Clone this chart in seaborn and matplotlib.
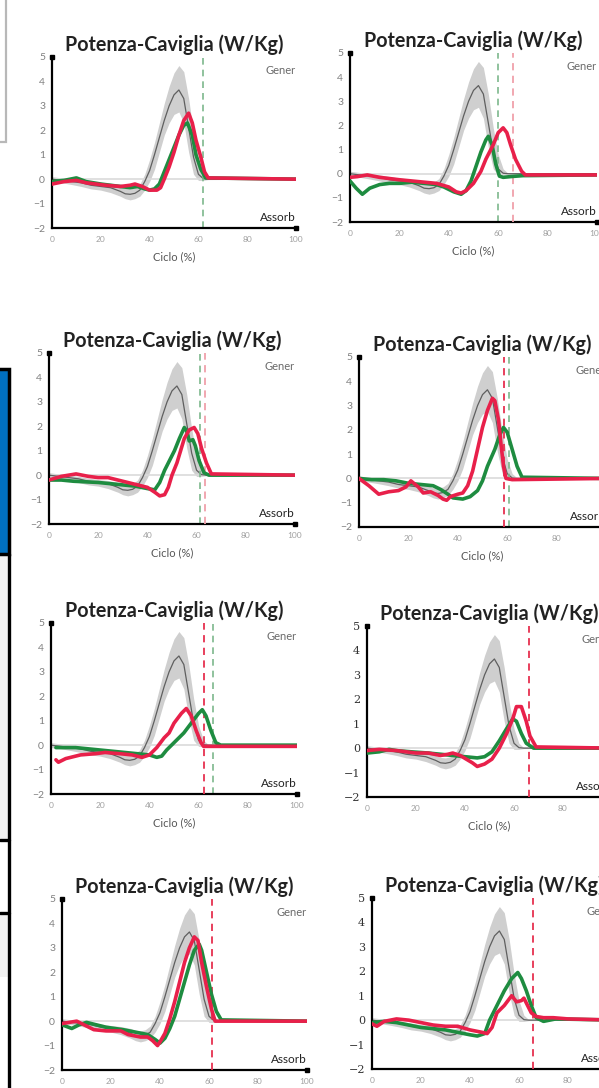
import matplotlib
matplotlib.use("Agg")
import matplotlib.pyplot as plt
import seaborn as sns
from matplotlib.patches import Rectangle
from matplotlib.lines import Line2D

# ---------------- data ----------------
ref_x = [0, 4, 8, 12, 16, 20, 24, 28, 30, 32, 34, 36, 38, 40, 42, 44, 46, 48, 50, 52, 54, 56, 58, 60, 62, 64, 100]
ref_mean = [0, -0.05, -0.1, -0.15, -0.25, -0.3, -0.35, -0.5, -0.6, -0.62, -0.58, -0.45, -0.1, 0.35, 1.0, 1.7, 2.4, 3.0, 3.45, 3.65, 3.3, 2.1, 0.9, 0.2, 0.02, 0, 0]
ref_upper = [0.1, 0.05, 0, -0.05, -0.12, -0.18, -0.22, -0.3, -0.38, -0.4, -0.35, -0.2, 0.2, 0.8, 1.5, 2.3, 3.1, 3.8, 4.35, 4.65, 4.4, 3.3, 1.9, 0.8, 0.2, 0.02, 0]
ref_lower = [-0.1, -0.15, -0.22, -0.3, -0.4, -0.45, -0.55, -0.7, -0.8, -0.85, -0.8, -0.7, -0.45, -0.1, 0.4, 1.1, 1.8, 2.3, 2.65, 2.75, 2.3, 1.1, 0.2, -0.05, -0.05, -0.02, 0]

p1_green_x = [0, 5, 10, 14, 20, 28, 32, 35, 38, 40, 42, 44, 46, 48, 50, 52, 54, 55.5, 57.5, 59, 61, 63, 100]
p1_green_y = [-0.1, -0.05, 0.05, -0.1, -0.2, -0.3, -0.35, -0.3, -0.4, -0.45, -0.4, -0.2, 0.3, 0.8, 1.3, 1.8, 2.2, 2.3, 1.8, 1.0, 0.4, 0.05, 0]
p1_red_x = [0, 5, 10, 14, 18, 22, 28, 32, 34, 37, 40, 43, 44.5, 46, 48, 50, 52, 54, 56, 57.5, 59, 61, 62.5, 64, 100]
p1_red_y = [-0.2, -0.1, -0.05, -0.15, -0.2, -0.25, -0.3, -0.25, -0.2, -0.3, -0.45, -0.45, -0.35, 0.0, 0.5, 1.1, 1.8, 2.4, 2.7, 2.3, 1.6, 0.9, 0.3, 0.05, 0]

p2_green_x = [0, 2.5, 5, 8, 12, 16, 20, 25, 30, 35, 38, 42, 45, 47, 49, 51, 53, 55, 56, 57.5, 59, 60.5, 62, 65, 70, 100]
p2_green_y = [-0.3, -0.6, -0.85, -0.6, -0.45, -0.4, -0.4, -0.35, -0.4, -0.45, -0.55, -0.75, -0.85, -0.7, -0.3, 0.3, 0.9, 1.4, 1.55, 1.2, 0.4, -0.1, -0.15, -0.12, -0.08, -0.05]
p2_red_x = [0, 3, 7, 12, 20, 30, 35, 40, 43, 45, 47, 50, 53, 55, 58, 60, 62, 63.5, 65, 67, 69.5, 71, 100]
p2_red_y = [-0.15, -0.12, -0.05, -0.15, -0.25, -0.35, -0.4, -0.55, -0.75, -0.8, -0.7, -0.4, 0.1, 0.6, 1.2, 1.7, 1.9, 1.7, 1.2, 0.6, 0.1, -0.05, -0.05]

p3_green_x = [0, 5, 10, 20, 25, 30, 35, 40, 43, 45, 47, 49, 51, 53, 55, 56, 57, 58.5, 59.5, 61, 63, 65, 100]
p3_green_y = [-0.2, -0.2, -0.25, -0.3, -0.35, -0.4, -0.45, -0.55, -0.6, -0.3, 0.2, 0.6, 1.0, 1.5, 1.95, 1.8, 1.4, 1.45, 1.2, 0.6, 0.1, 0, 0]
p3_red_x = [0, 5, 11, 16, 20, 24, 28, 32, 36, 40, 43, 45, 47, 48.5, 50, 52, 53.5, 55, 57, 59, 60.5, 62, 64, 66, 100]
p3_red_y = [-0.2, -0.05, 0.05, -0.05, -0.1, -0.1, -0.2, -0.3, -0.4, -0.5, -0.7, -0.85, -0.8, -0.5, 0.0, 0.5, 1.0, 1.5, 1.85, 1.95, 1.7, 1.1, 0.5, 0.05, 0]

p4_green_x = [0, 5, 10, 15, 20, 25, 30, 33, 36, 38, 42, 45, 48, 50, 52, 55, 57, 58.5, 60, 62, 64, 66, 100]
p4_green_y = [0, -0.05, -0.05, -0.1, -0.2, -0.25, -0.3, -0.45, -0.65, -0.8, -0.85, -0.75, -0.5, -0.1, 0.5, 1.2, 1.8, 2.1, 1.9, 1.2, 0.5, 0.05, 0]
p4_red_x = [0, 4, 8, 12, 16, 19, 21, 24, 26, 29, 32, 34, 35.5, 37, 40, 42, 44, 46, 48, 50, 52, 54, 55, 56.5, 57.5, 58.5, 59.5, 62, 100]
p4_red_y = [0, -0.3, -0.65, -0.55, -0.5, -0.35, -0.1, -0.35, -0.6, -0.55, -0.7, -0.85, -0.9, -0.75, -0.65, -0.6, -0.3, 0.3, 1.2, 2.1, 2.8, 3.3, 3.2, 2.4, 1.4, 0.5, 0.0, -0.05, 0]

p5_green_x = [2, 10, 20, 30, 35, 40, 43, 45, 47, 50, 54, 57, 60, 61.5, 63, 65, 67, 69, 100]
p5_green_y = [-0.1, -0.1, -0.2, -0.3, -0.35, -0.4, -0.5, -0.45, -0.2, 0.1, 0.5, 0.9, 1.3, 1.45, 1.2, 0.6, 0.1, 0, 0]
p5_red_x = [2, 3, 6, 12, 18, 22, 28, 33, 37, 40, 43, 46, 48, 50, 53, 55, 57, 59, 61, 62, 100]
p5_red_y = [-0.6, -0.7, -0.55, -0.4, -0.35, -0.3, -0.35, -0.4, -0.5, -0.4, -0.1, 0.3, 0.5, 0.9, 1.3, 1.5, 1.2, 0.6, 0.1, -0.05, -0.05]

p6_green_x = [0, 5, 9, 12, 18, 25, 30, 35, 40, 45, 48, 51, 54, 57, 59.5, 61, 63, 65, 68, 100]
p6_green_y = [-0.2, -0.15, -0.05, -0.1, -0.15, -0.2, -0.25, -0.3, -0.35, -0.4, -0.35, -0.15, 0.3, 0.8, 1.2, 1.1, 0.6, 0.2, 0, 0]
p6_red_x = [0, 5, 12, 20, 25, 30, 33, 35, 38, 43, 45, 48, 51, 54, 57, 59.5, 61, 63, 65, 66.5, 69, 100]
p6_red_y = [-0.1, -0.05, -0.1, -0.2, -0.2, -0.3, -0.25, -0.2, -0.3, -0.6, -0.75, -0.65, -0.45, 0.0, 0.6, 1.2, 1.7, 1.7, 1.1, 0.5, 0.05, 0]

p7_green_x = [0, 4, 7, 10, 14, 18, 25, 30, 35, 38, 40, 42, 44, 46, 48, 50, 52, 54, 56, 57, 59, 61, 63, 65, 100]
p7_green_y = [-0.15, -0.3, -0.15, -0.05, -0.15, -0.25, -0.35, -0.45, -0.55, -0.75, -0.9, -0.7, -0.3, 0.2, 0.9, 1.6, 2.3, 2.9, 3.15, 2.9, 2.0, 1.1, 0.4, 0.05, 0]
p7_red_x = [0, 3, 6, 9, 13, 18, 24, 27, 32, 35, 37, 39, 40, 42, 44, 46, 48, 50, 52, 54, 55.5, 57, 59, 61, 62.5, 100]
p7_red_y = [-0.1, -0.05, 0.0, -0.15, -0.35, -0.4, -0.4, -0.55, -0.65, -0.65, -0.8, -1.0, -0.85, -0.5, 0.1, 0.8, 1.6, 2.4, 3.0, 3.45, 3.3, 2.4, 1.4, 0.5, 0.0, 0]

p8_green_x = [0, 5, 10, 15, 20, 25, 30, 35, 40, 43, 46, 48, 51, 54, 57, 59.5, 61, 63, 65, 67, 70, 75, 100]
p8_green_y = [-0.1, -0.05, -0.1, -0.2, -0.3, -0.35, -0.4, -0.5, -0.6, -0.65, -0.55, 0.0, 0.6, 1.2, 1.7, 1.95, 1.7, 1.2, 0.6, 0.1, -0.05, 0.05, 0]
p8_red_x = [0, 2, 5, 10, 15, 20, 25, 30, 35, 40, 45, 47, 49, 51, 54, 57, 59, 61, 62, 63.5, 65, 67, 70, 74, 80, 100]
p8_red_y = [-0.15, -0.25, -0.05, 0.05, 0.0, -0.1, -0.2, -0.25, -0.25, -0.4, -0.5, -0.55, -0.3, 0.3, 0.6, 1.0, 0.75, 0.8, 0.9, 0.6, 0.3, 0.15, 0.1, 0.1, 0.05, 0]

# toe-off markers (dashed verticals); None = not drawn
toe_green = [62, 60, 61.3, 60.6, 66, None, None, None]
toe_red = [None, 66, 63.5, 58.6, 62.3, 66.2, 61.2, 65.8]

greens = [(p1_green_x, p1_green_y), (p2_green_x, p2_green_y), (p3_green_x, p3_green_y), (p4_green_x, p4_green_y),
          (p5_green_x, p5_green_y), (p6_green_x, p6_green_y), (p7_green_x, p7_green_y), (p8_green_x, p8_green_y)]
reds = [(p1_red_x, p1_red_y), (p2_red_x, p2_red_y), (p3_red_x, p3_red_y), (p4_red_x, p4_red_y),
        (p5_red_x, p5_red_y), (p6_red_x, p6_red_y), (p7_red_x, p7_red_y), (p8_red_x, p8_red_y)]

title = "Potenza-Caviglia (W/Kg)"
y_ticks = [-2, -1, 0, 1, 2, 3, 4, 5]
x_ticks = [0, 20, 40, 60, 80, 100]

# ---------------- layout ----------------
sns.set_theme(style="white")
plt.rcParams['font.family'] = ['Lato', 'DejaVu Sans']

W, H = 599, 1088
fig = plt.figure(figsize=(W / 100, H / 100), dpi=100)

# (left, top, right, bottom) of each plot area in pixels
frames = [(52, 57, 296, 228), (350, 53, 597, 222), (49, 353, 295, 524), (359, 357, 606, 527),
          (51, 623, 297, 794), (367, 626, 612, 797), (62, 899, 307, 1070), (372, 898, 617, 1069)]
serif_ticks = [False, False, False, False, False, True, False, True]
show_xlabel = [True, True, True, True, True, True, False, False]
red_dash_col = ['#e04060', '#f0a0aa', '#f0a0aa', '#e6304f', '#e6304f', '#e6304f', '#e6304f', '#e6304f']

GREEN = '#1e8c40'
RED = '#e8204a'
px = 0.72  # points per pixel

# left-edge decorations
def frect(x0, y0, x1, y1, **kw):
    r = Rectangle((x0 / W, 1 - y1 / H), (x1 - x0) / W, (y1 - y0) / H, transform=fig.transFigure, **kw)
    fig.add_artist(r)

frect(-10, -10, 6, 142, facecolor='none', edgecolor='#b8b8b8', lw=1.6)
frect(-10, 556, 8, 840, facecolor='#f2f2f2', edgecolor='none')
frect(-10, 915, 8, 977, facecolor='#f2f2f2', edgecolor='none')
frect(-10, 369, 9, 554, facecolor='#0070c0', edgecolor='black', lw=2.5)
fig.add_artist(Line2D([9 / W, 9 / W], [1 - 554 / H, 0], transform=fig.transFigure, color='black', lw=2.4))
for yy in (840, 913):
    fig.add_artist(Line2D([0, 9 / W], [1 - yy / H, 1 - yy / H], transform=fig.transFigure, color='black', lw=2.4))

for i, (l, t, r, b) in enumerate(frames):
    ax = fig.add_axes([l / W, 1 - b / H, (r - l) / W, (b - t) / H])
    ax.set_xlim(0, 100)
    ax.set_ylim(-2, 5)
    ax.set_facecolor('none')

    # normative band + mean
    ax.fill_between(ref_x, ref_lower, ref_upper, color='#cfcfcf', lw=0, zorder=1)
    sns.lineplot(x=ref_x, y=ref_mean, ax=ax, color='#5f5f5f', lw=0.9, zorder=2)
    ax.axhline(0, color='#dadada', lw=1.2, zorder=1.5)

    gx, gy = greens[i]
    rx, ry = reds[i]
    sns.lineplot(x=gx, y=gy, ax=ax, color=GREEN, lw=2.6, zorder=3)
    sns.lineplot(x=rx, y=ry, ax=ax, color=RED, lw=2.6, zorder=4)

    if toe_green[i] is not None:
        ax.axvline(toe_green[i], color='#7db88c', lw=1.2, ls=(0, (4, 3)), zorder=2.5)
    if toe_red[i] is not None:
        ax.axvline(toe_red[i], color=red_dash_col[i], lw=1.3, ls=(0, (4, 3)), zorder=2.6)

    ax.text(100, 4.45, 'Gener', ha='right', va='center', fontsize=8, color='#6a6a6a')
    ax.text(100, -1.55, 'Assorb', ha='right', va='center', fontsize=8.5, color='#222222')

    for s in ('top', 'right'):
        ax.spines[s].set_visible(False)
    for s in ('left', 'bottom'):
        ax.spines[s].set_color('black')
        ax.spines[s].set_linewidth(1.6)
    ax.plot([0], [5], marker='s', ms=3, color='black', clip_on=False, zorder=6)
    ax.plot([100], [-2], marker='s', ms=3, color='black', clip_on=False, zorder=6)

    ax.set_xticks(x_ticks)
    ax.set_yticks(y_ticks)
    ax.tick_params(axis='both', length=0)
    ax.tick_params(axis='x', pad=6, labelsize=6, labelcolor='#a0a0a0')
    if serif_ticks[i]:
        ax.tick_params(axis='y', pad=5, labelsize=8, labelcolor='#333333')
        for lab in ax.get_yticklabels():
            lab.set_family('DejaVu Serif')
    else:
        ax.tick_params(axis='y', pad=5, labelsize=7.5, labelcolor='#808080')
    ax.set_xlabel('')
    ax.set_ylabel('')

    ax.set_title(title, fontsize=14.2, fontweight='bold', color='#222222', pad=4)
    if show_xlabel[i]:
        ax.annotate('Ciclo (%)', xy=(50, 0), xycoords=('data', 'axes fraction'),
                    xytext=(0, -29 * px), textcoords='offset points',
                    ha='center', va='center', fontsize=8, color='#555555')

fig.savefig('out.png', dpi=100)
